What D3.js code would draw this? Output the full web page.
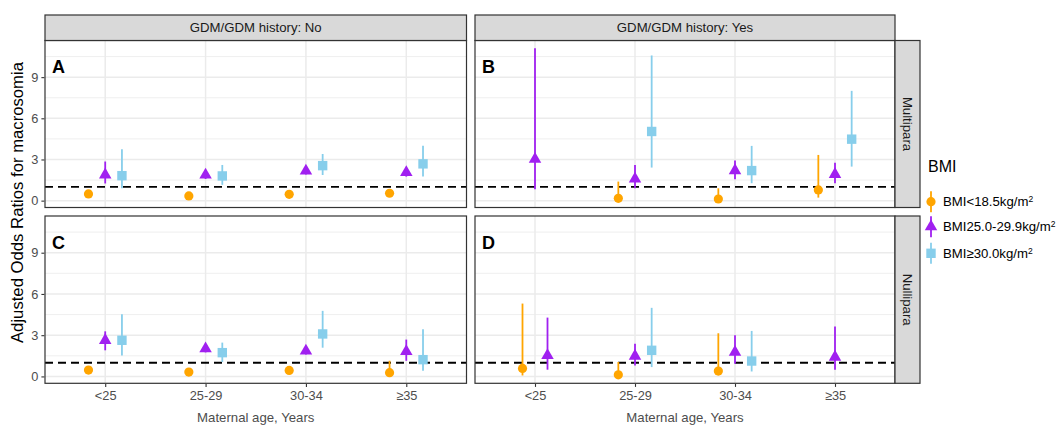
<!DOCTYPE html>
<html><head><meta charset="utf-8">
<script src="https://cdn.jsdelivr.net/npm/d3@7"></script>
<style>body{margin:0;background:#fff;} svg{display:block;font-family:"Liberation Sans",Arial,sans-serif;}</style>
</head><body>
<svg id="chart" width="1056" height="426"></svg>
<script>
// ---------------- data ----------------
const ages = ["<25", "25-29", "30-34", "≥35"];
const bmiLabels = ["BMI<18.5kg/m", "BMI25.0-29.9kg/m", "BMI≥30.0kg/m"];
const bmiColors = ["#FFA500", "#A020F0", "#87CEEB"];
const colLabels = ["GDM/GDM history: No", "GDM/GDM history: Yes"];
const rowLabels = ["Multipara", "Nullipara"];
const panelTags = ["A", "B", "C", "D"];
const yTicks = [0, 3, 6, 9];
const refLine = 1;
// rows = BMI group (<18.5, 25.0-29.9, >=30.0), columns = maternal age group
const estA = [[0.49, 0.34, 0.46, 0.54], [1.88, 1.87, 2.17, 2.05], [1.82, 1.80, 2.55, 2.68]];
const loA  = [[0.36, 0.24, 0.34, 0.40], [1.25, 1.58, 1.90, 1.75], [0.90, 1.15, 1.87, 1.75]];
const hiA  = [[0.66, 0.48, 0.62, 0.72], [2.85, 2.15, 2.45, 2.35], [3.75, 2.60, 3.40, 4.00]];
const estB = [[null, 0.17, 0.12, 0.78], [3.02, 1.58, 2.19, 1.92], [null, 5.04, 2.19, 4.48]];
const loB  = [[null, 0.05, 0.05, 0.22], [0.83, 0.90, 1.56, 1.27], [null, 2.41, 1.27, 2.48]];
const hiB  = [[null, 1.39, 0.90, 3.33], [11.1, 2.60, 2.92, 2.77], [null, 10.58, 3.99, 8.00]];
const estC = [[0.46, 0.32, 0.44, 0.27], [2.63, 2.02, 1.85, 1.82], [2.63, 1.73, 3.09, 1.22]];
const loC  = [[0.34, 0.22, 0.32, 0.12], [1.90, 1.75, 1.60, 1.14], [1.53, 1.05, 2.09, 0.41]];
const hiC  = [[0.62, 0.45, 0.60, 1.14], [3.28, 2.30, 2.10, 2.68], [4.53, 2.46, 4.77, 3.43]];
const estD = [[0.58, 0.12, 0.39, null], [1.53, 1.48, 1.77, 1.41], [null, 1.90, 1.12, null]];
const loD  = [[0.07, 0.05, 0.10, null], [0.49, 0.80, 0.92, 0.49], [null, 0.68, 0.36, null]];
const hiD  = [[5.30, 1.05, 3.14, null], [4.28, 2.38, 2.99, 3.63], [null, 4.99, 3.31, null]];
const panelData = [[estA, loA, hiA], [estB, loB, hiB], [estC, loC, hiC], [estD, loD, hiD]];

// ---------------- layout ----------------
const svg = d3.select("#chart");
const colX = [[45, 466.5], [475, 895]];
const rowY = [[40.5, 207.5], [216, 383.3]];
const stripTop = 15, rightStripW = 25;
const yDomain = [-0.5, 11.67];
const dodgeWidth = 0.5;
const FONT = "Liberation Sans, Arial, sans-serif";

function drawPanel(pi) {
  const r = Math.floor(pi / 2), c = pi % 2;
  const [x0, x1] = colX[c], [y0, y1] = rowY[r];
  const x = d3.scalePoint().domain(ages).range([x0, x1]).padding(0.6);
  const step = x.step();
  const y = d3.scaleLinear().domain(yDomain).range([y1, y0]);
  const g = svg.append("g");
  g.append("rect").attr("x", x0).attr("y", y0).attr("width", x1 - x0).attr("height", y1 - y0).attr("fill", "#fff");
  const minor = [1.5, 4.5, 7.5, 10.5];
  g.selectAll(".mn").data(minor).join("line").attr("x1", x0).attr("x2", x1)
    .attr("y1", d => y(d)).attr("y2", d => y(d)).attr("stroke", "#EBEBEB").attr("stroke-width", 0.8);
  g.selectAll(".mj").data(yTicks).join("line").attr("x1", x0).attr("x2", x1)
    .attr("y1", d => y(d)).attr("y2", d => y(d)).attr("stroke", "#EBEBEB").attr("stroke-width", 1.5);
  g.selectAll(".vx").data(ages).join("line").attr("x1", d => x(d)).attr("x2", d => x(d))
    .attr("y1", y0).attr("y2", y1).attr("stroke", "#EBEBEB").attr("stroke-width", 1.5);
  g.append("line").attr("x1", x0).attr("x2", x1).attr("y1", y(refLine)).attr("y2", y(refLine))
    .attr("stroke", "#000").attr("stroke-width", 1.9).attr("stroke-dasharray", "8,5");

  const [est, lo, hi] = panelData[pi];
  ages.forEach((a, ai) => {
    const present = [0, 1, 2].filter(k => est[k][ai] != null);
    const n = present.length;
    present.forEach((k, idx) => {
      const off = -dodgeWidth / 2 + (idx + 0.5) * dodgeWidth / n;
      const cx = x(a) + off * step;
      const col = bmiColors[k];
      g.append("line").attr("x1", cx).attr("x2", cx).attr("y1", y(lo[k][ai])).attr("y2", y(hi[k][ai]))
        .attr("stroke", col).attr("stroke-width", 1.8);
      drawShape(g, k, cx, y(est[k][ai]), col);
    });
  });
  g.append("rect").attr("x", x0).attr("y", y0).attr("width", x1 - x0).attr("height", y1 - y0)
    .attr("fill", "none").attr("stroke", "#333").attr("stroke-width", 1.2);
  g.append("text").attr("x", x0 + 7).attr("y", y(9.3)).attr("font-size", 18).attr("font-weight", "bold")
    .attr("fill", "#000").text(panelTags[pi]);
  if (c === 0) {
    const yAxis = d3.axisLeft(y).tickValues(yTicks).tickSize(3).tickPadding(3);
    const ya = svg.append("g").attr("transform", `translate(${x0 - 0.6},0)`).call(yAxis);
    ya.select(".domain").remove();
    ya.selectAll(".tick line").attr("stroke", "#333").attr("stroke-width", 1.1);
    ya.selectAll(".tick text").attr("fill", "#4D4D4D").attr("font-size", 12.8).attr("font-family", FONT);
  }
  if (r === 1) {
    const xAxis = d3.axisBottom(x).tickSize(3).tickPadding(4);
    const xa = svg.append("g").attr("transform", `translate(0,${y1 + 0.6})`).call(xAxis);
    xa.select(".domain").remove();
    xa.selectAll(".tick line").attr("stroke", "#333").attr("stroke-width", 1.1);
    xa.selectAll(".tick text").attr("fill", "#4D4D4D").attr("font-size", 12.8).attr("font-family", FONT);
    svg.append("text").attr("x", (x0 + x1) / 2).attr("y", 422).attr("text-anchor", "middle")
      .attr("font-size", 13.2).attr("fill", "#4D4D4D").text("Maternal age, Years");
  }
}

function drawShape(g, k, cx, cy, col) {
  if (k === 0) {
    g.append("circle").attr("cx", cx).attr("cy", cy).attr("r", 4.6).attr("fill", col);
  } else if (k === 1) {
    const s = 12.5, h = s * Math.sqrt(3) / 2;
    g.append("path").attr("d", `M${cx},${cy - h * 2 / 3}L${cx + s / 2},${cy + h / 3}L${cx - s / 2},${cy + h / 3}Z`).attr("fill", col);
  } else {
    g.append("rect").attr("x", cx - 4.7).attr("y", cy - 4.7).attr("width", 9.4).attr("height", 9.4).attr("fill", col);
  }
}

[0, 1, 2, 3].forEach(drawPanel);

// top strips
colX.forEach(([x0, x1], c) => {
  svg.append("rect").attr("x", x0).attr("y", stripTop).attr("width", x1 - x0).attr("height", rowY[0][0] - stripTop)
    .attr("fill", "#D9D9D9").attr("stroke", "#333").attr("stroke-width", 1.2);
  svg.append("text").attr("x", (x0 + x1) / 2).attr("y", (stripTop + rowY[0][0]) / 2).attr("dy", "0.35em")
    .attr("text-anchor", "middle").attr("font-size", 13.2).attr("fill", "#1A1A1A").text(colLabels[c]);
});
// right strips
rowY.forEach(([y0, y1], r) => {
  const sx = colX[1][1];
  svg.append("rect").attr("x", sx).attr("y", y0).attr("width", rightStripW).attr("height", y1 - y0)
    .attr("fill", "#D9D9D9").attr("stroke", "#333").attr("stroke-width", 1.2);
  svg.append("text").attr("transform", `translate(${sx + rightStripW / 2},${(y0 + y1) / 2}) rotate(90)`)
    .attr("dy", "0.35em").attr("text-anchor", "middle").attr("font-size", 13.2).attr("fill", "#1A1A1A").text(rowLabels[r]);
});

// y title
svg.append("text").attr("transform", `translate(17.5,202.5) rotate(-90)`)
  .attr("dy", "0.35em").attr("text-anchor", "middle").attr("font-size", 16.7).attr("fill", "#000")
  .text("Adjusted Odds Ratios for macrosomia");

// legend
const lg = svg.append("g");
lg.append("text").attr("x", 928).attr("y", 172).attr("font-size", 16).attr("fill", "#000").text("BMI");
const legY = [201.7, 226.7, 253.3];
bmiLabels.forEach((lab, k) => {
  const cy = legY[k], cx = 931;
  lg.append("line").attr("x1", cx).attr("x2", cx).attr("y1", cy - 10.5).attr("y2", cy + 10.5)
    .attr("stroke", bmiColors[k]).attr("stroke-width", 1.8);
  drawShape(lg, k, cx, cy, bmiColors[k]);
  const t = lg.append("text").attr("x", 943).attr("y", cy).attr("dy", "0.35em").attr("font-size", 13.2).attr("fill", "#000");
  t.append("tspan").text(lab);
  t.append("tspan").attr("font-size", 8.5).attr("dy", "-0.5em").text("2");
});
</script>
</body></html>
